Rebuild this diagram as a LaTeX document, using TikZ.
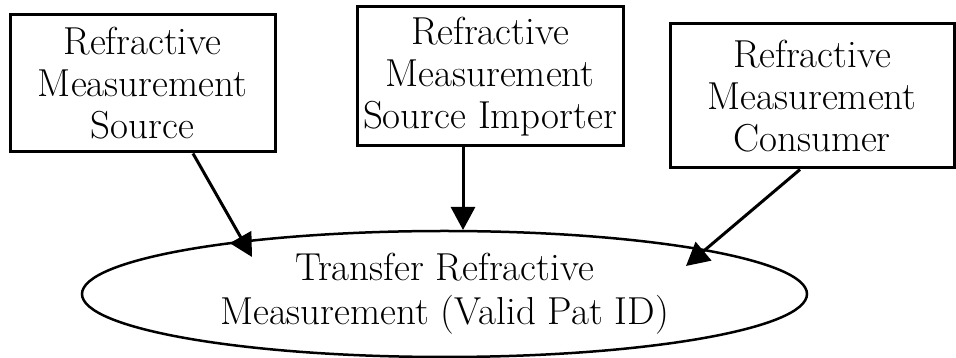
\documentclass[tikz,border=0pt]{standalone}
\usepackage{fontspec}
\usetikzlibrary{shapes.geometric,arrows.meta}

\begin{document}
\begin{tikzpicture}[x=1pt,y=1pt,
  actor/.style={draw,line width=3pt,rectangle,inner sep=0pt,align=center,font=\fontsize{39}{42}\selectfont},
  usecase/.style={draw,line width=2.5pt,ellipse,inner sep=0pt,align=center,font=\fontsize{39}{44}\selectfont,minimum width=725,minimum height=126},
  link/.style={line width=3pt,-{Triangle[length=23pt,width=24pt]}}]
%%\draw[help lines] (0,0) grid (956,358);
\useasboundingbox (0,0) rectangle (956,358);
\node[actor,minimum width=265,minimum height=137] (src) at (142.5,274.5) {Refractive\\Measurement\\Source};
\node[actor,minimum width=266,minimum height=139] (imp) at (490,281.5) {Refractive\\Measurement\\Source Importer};
\node[actor,minimum width=284,minimum height=144] (con) at (812,262) {Refractive\\Measurement\\Consumer};
\node[usecase] (xfer) at (444.5,64) {Transfer Refractive\\Measurement (Valid Pat ID)};
\draw[link] ([xshift=50.5]src.south) -- ([shift={(-192.5,37)}]xfer.center);
\draw[link] ([xshift=-27]imp.south) -- ([shift={(18.5,64)}]xfer.center);
\draw[link] ([xshift=-12]con.south) -- ([shift={(241.5,28)}]xfer.center);
\end{tikzpicture}
\end{document}
